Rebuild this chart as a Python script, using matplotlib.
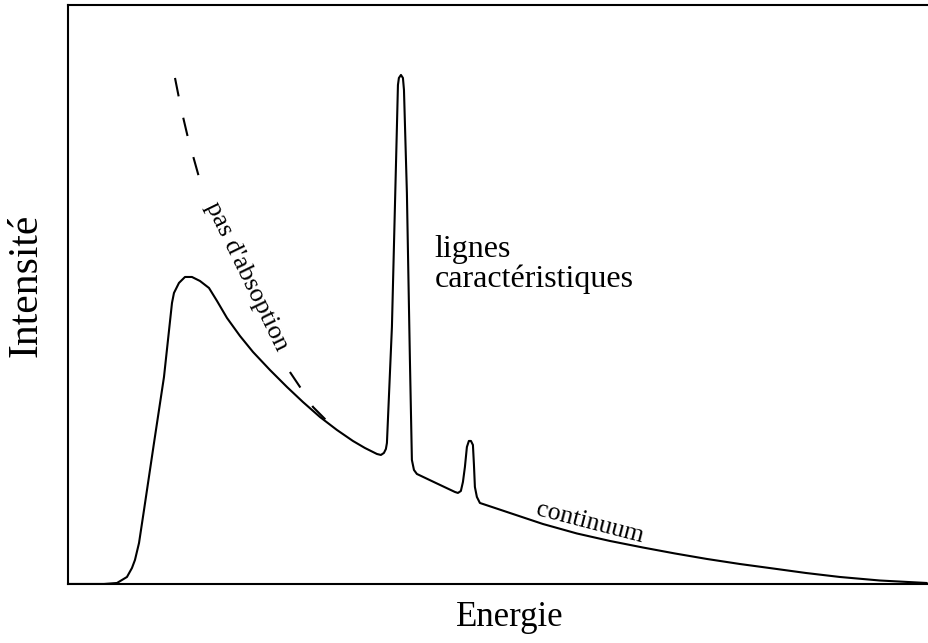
import matplotlib
matplotlib.use('Agg')
import matplotlib.pyplot as plt

plt.rcParams['font.family'] = ['Liberation Serif', 'DejaVu Serif']

# ── Spectrum (arbitrary units) ──
energy = [0.000, 0.418, 0.569, 0.685, 0.743, 0.778, 0.825, 0.883, 0.999,
          1.115, 1.208, 1.231, 1.289, 1.359, 1.440, 1.533, 1.638, 1.731,
          1.847, 1.998, 2.149, 2.346, 2.544, 2.729, 2.927, 3.124, 3.310,
          3.449, 3.589, 3.635, 3.670, 3.693, 3.705, 3.763, 3.821, 3.833,
          3.844, 3.868, 3.891, 3.903, 3.937, 3.972, 3.995, 4.019, 4.053,
          4.274, 4.495, 4.530, 4.564, 4.588, 4.611, 4.634, 4.657, 4.681,
          4.704, 4.716, 4.727, 4.750, 4.785, 4.959, 5.134, 5.517, 5.912,
          6.295, 6.678, 7.050, 7.422, 7.805, 8.188, 8.571, 8.966, 9.431,
          9.977]
intensity = [0.00, 0.00, 0.17, 1.21, 2.76, 4.15, 7.08, 12.78, 24.35,
             35.75, 48.53, 50.26, 51.99, 53.02, 53.02, 52.33, 51.12, 48.88,
             45.94, 42.83, 40.07, 36.96, 34.02, 31.43, 28.84, 26.60, 24.70,
             23.49, 22.45, 22.28, 22.63, 23.32, 24.35, 44.39, 78.93, 86.18,
             87.39, 87.91, 87.39, 85.32, 67.53, 38.69, 21.42, 19.69, 19.00,
             17.44, 15.89, 15.72, 16.06, 17.62, 20.21, 23.66, 24.70, 24.70,
             24.01, 20.55, 16.75, 15.03, 13.99, 13.13, 12.26, 10.36, 8.72,
             7.43, 6.30, 5.27, 4.32, 3.45, 2.68, 1.90, 1.21, 0.60,
             0.17]

# without absorption (dashed), interrupted where the label sits
energy_noabs_top = [1.243, 1.312, 1.394, 1.521]
intensity_noabs_top = [87.39, 82.21, 77.03, 70.29]
energy_noabs_low = [2.578, 2.718, 2.846, 3.008]
intensity_noabs_low = [36.61, 33.51, 30.57, 28.15]

fig = plt.figure(figsize=(9.29, 6.43), dpi=100)
ax = fig.add_axes([0.0732, 0.0918, 0.9516, 0.9005])

ax.plot(energy, intensity, color='black', lw=1.5,
        solid_joinstyle='round', solid_capstyle='round')
for ex, iy in [(energy_noabs_top, intensity_noabs_top),
               (energy_noabs_low, intensity_noabs_low)]:
    ax.plot(ex, iy, color='black', lw=1.5, linestyle=(0, (9, 10.5)))

ax.text(2.07, 53.2, "pas d'absoption", fontsize=19, rotation=-64,
        rotation_mode='anchor', ha='center', va='center')
ax.text(4.26, 60.3, 'lignes\ncaractéristiques', fontsize=23,
        ha='left', va='top', linespacing=1.05)
ax.text(6.05, 9.5, 'continuum', fontsize=18.5, rotation=-14.5,
        rotation_mode='anchor', ha='center', va='baseline')

ax.set_xlim(0, 10.27)
ax.set_ylim(0, 100)
ax.set_xticks([]); ax.set_yticks([])
ax.set_xlabel('Energie', fontsize=25, labelpad=12)
ax.set_ylabel('Intensité', fontsize=30, labelpad=16, y=0.516)
for side in ['left', 'bottom', 'top', 'right']:
    ax.spines[side].set_linewidth(1.5)

plt.savefig('out.png', dpi=100)
plt.close()
